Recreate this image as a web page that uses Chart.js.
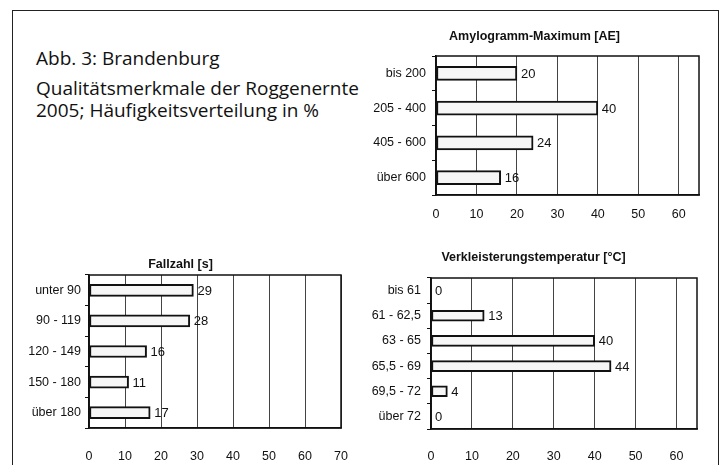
<!DOCTYPE html>
<html>
<head>
<meta charset="utf-8">
<script src="https://cdn.jsdelivr.net/npm/chart.js@4/dist/chart.umd.min.js"></script>
<style>
  body { margin: 0; background: #fff; }
  #page { position: relative; width: 722px; height: 465px; background: #fff; overflow: hidden; }
  #frame { position: absolute; left: 12px; top: 10px; width: 705px; height: 470px; border: 1.5px solid #222; }
  #caption { position: absolute; left: 36px; top: 47px; font-family: "Open Sans", sans-serif; font-size: 19px; color: #111; line-height: 22px; }
  #caption .l1 { margin-bottom: 8px; }
  .box { position: absolute; }
</style>
</head>
<body>
<div id="page">
  <div id="frame"></div>
  <div id="caption">
    <div class="l1">Abb. 3: Brandenburg</div>
    <div>Qualitätsmerkmale der Roggenernte</div>
    <div>2005; Häufigkeitsverteilung in %</div>
  </div>
  <div class="box" id="box1" style="left:370px; top:20px; width:346px; height:210px;"><canvas id="amylo"></canvas></div>
  <div class="box" id="box2" style="left:20px; top:245px; width:370px; height:220px;"><canvas id="fallzahl"></canvas></div>
  <div class="box" id="box3" style="left:370px; top:245px; width:339px; height:220px;"><canvas id="verkl"></canvas></div>
</div>
<script>
// ----------- Data ----------- //
const amyloLabels = ['bis 200', '205 - 400', '405 - 600', 'über 600'];
const amyloValues = [20, 40, 24, 16];
const amyloTicks = [0, 10, 20, 30, 40, 50, 60];

const fallzahlLabels = ['unter 90', '90 - 119', '120 - 149', '150 - 180', 'über 180'];
const fallzahlValues = [29, 28, 16, 11, 17];
const fallzahlTicks = [0, 10, 20, 30, 40, 50, 60, 70];

const verklLabels = ['bis 61', '61 - 62,5', '63 - 65', '65,5 - 69', '69,5 - 72', 'über 72'];
const verklValues = [0, 13, 40, 44, 4, 0];
const verklTicks = [0, 10, 20, 30, 40, 50, 60];

const FONT = '"Liberation Sans", Arial, sans-serif';

// ----------- Plugins ----------- //
// box around the plot area (top + right sides, axes do the rest)
const plotBorder = {
    id: 'plotBorder',
    beforeDatasetsDraw(chart) {
        const { ctx, chartArea: a } = chart;
        ctx.save();
        ctx.strokeStyle = '#111';
        ctx.lineWidth = 1.5;
        ctx.strokeRect(a.left, a.top, a.right - a.left, a.bottom - a.top);
        ctx.restore();
    }
};

// number right of every bar
const valueLabels = {
    id: 'valueLabels',
    afterDatasetsDraw(chart) {
        const ctx = chart.ctx;
        const values = chart.data.datasets[0].data;
        ctx.save();
        ctx.font = '13px ' + FONT;
        ctx.fillStyle = '#111';
        ctx.textBaseline = 'middle';
        chart.getDatasetMeta(0).data.forEach((bar, i) => {
            ctx.fillText(values[i], bar.x + 4, bar.y + 1);
        });
        ctx.restore();
    }
};

// ----------- Chart js Stuff ----------- //
const makeChart = (id, title, labels, values, tickValues, o) => new Chart(document.getElementById(id), {
    type: 'bar',
    data: {
        labels: labels,
        datasets: [{
            data: values,
            backgroundColor: '#f6f6f6',
            borderColor: '#111',
            borderWidth: 2,
            borderSkipped: false,
            barThickness: o.bar
        }]
    },
    options: {
        indexAxis: 'y',
        responsive: true,
        maintainAspectRatio: false,
        animation: false,
        layout: { padding: { left: 0, top: 0, bottom: 0, right: o.right } },
        plugins: {
            legend: { display: false },
            tooltip: { enabled: false },
            title: {
                display: true,
                text: title,
                color: '#111',
                font: { family: FONT, size: 12.5, weight: 'bold', lineHeight: 1.2 },
                padding: { top: o.titleTop, bottom: o.titleBottom }
            }
        },
        scales: {
            x: {
                min: 0,
                max: o.max,
                // the axis runs a bit past the last labelled tick
                afterBuildTicks: s => { s.ticks = tickValues.map(v => ({ value: v })); },
                afterFit: s => { s.height = o.xHeight; },
                grid: { color: '#444', lineWidth: 1, drawTicks: false },
                border: { display: true, color: '#111', width: 1.5 },
                ticks: { padding: o.xPad, color: '#111', font: { family: FONT, size: 12.5 } }
            },
            y: {
                afterFit: s => { s.width = o.yWidth; },
                grid: { drawOnChartArea: false, tickLength: 4, color: '#111', offset: true },
                border: { display: true, color: '#111', width: 1.5 },
                ticks: { padding: o.yPad, color: '#111', font: { family: FONT, size: 12.5 } }
            }
        }
    },
    plugins: [plotBorder, valueLabels]
});

makeChart('amylo', 'Amylogramm-Maximum [AE]', amyloLabels, amyloValues, amyloTicks,
    { max: 65, right: 17, yWidth: 66, xHeight: 35, xPad: 12, yPad: 6, titleTop: 9, titleBottom: 12, bar: 14 });

makeChart('fallzahl', 'Fallzahl [s]', fallzahlLabels, fallzahlValues, fallzahlTicks,
    { max: 70, right: 49, yWidth: 69, xHeight: 37, xPad: 21, yPad: 4, titleTop: 12.5, titleBottom: 2.5, bar: 12 });

makeChart('verkl', 'Verkleisterungstemperatur [°C]', verklLabels, verklValues, verklTicks,
    { max: 65, right: 12, yWidth: 61, xHeight: 36, xPad: 20, yPad: 6, titleTop: 5.5, titleBottom: 12.5, bar: 11 });
</script>
</body>
</html>
